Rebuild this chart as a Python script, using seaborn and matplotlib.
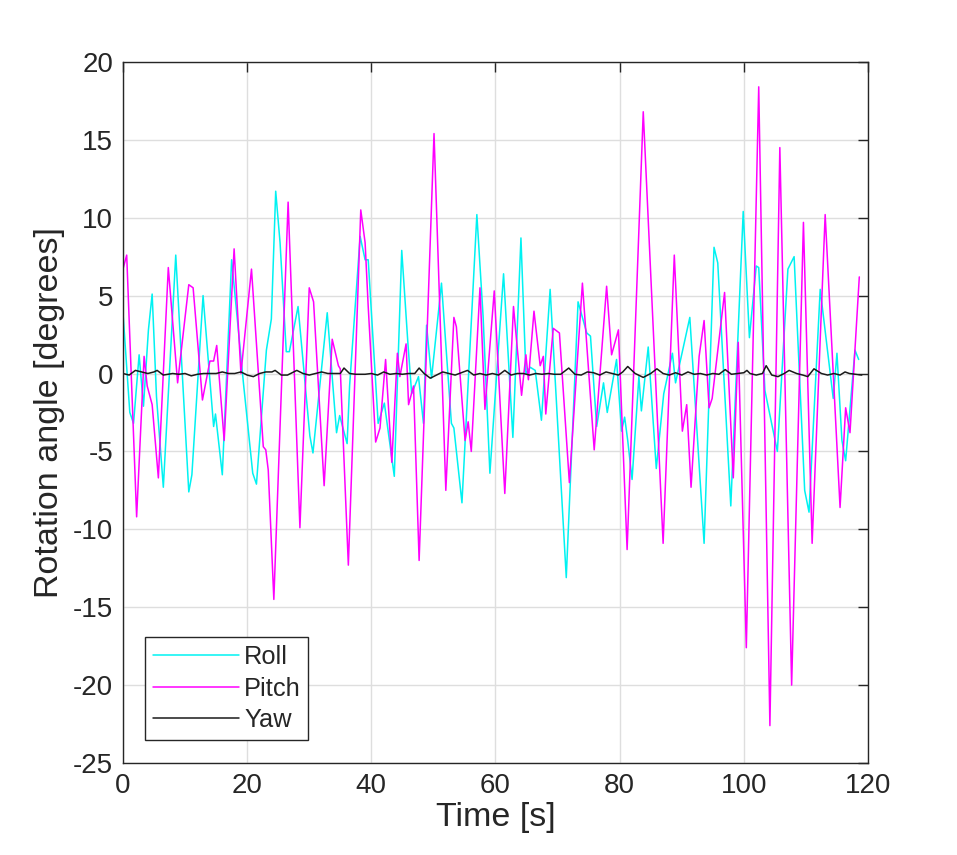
import numpy as np
import pandas as pd
import matplotlib
matplotlib.use("Agg")
import matplotlib.pyplot as plt
import seaborn as sns

roll_t = [0.0, 1.1, 1.7, 2.6, 3.3, 4.1, 4.7, 5.4, 6.5, 8.5, 10.6, 11.1, 12.9, 14.6, 14.9, 16.0, 17.5, 19.4,
          20.9, 21.5, 23.1, 23.9, 24.6, 25.3, 26.3, 26.8, 28.2, 30.1, 30.6, 32.9, 34.4, 34.9, 36.1, 36.5, 38.2,
          39.0, 39.5, 41.1, 42.1, 43.7, 44.9, 45.9, 46.5, 47.6, 48.4, 48.9, 49.7, 51.3, 52.9, 53.3, 54.6, 57.0,
          58.0, 59.1, 61.3, 62.8, 64.1, 64.9, 65.6, 66.4, 67.4, 68.8, 71.4, 73.3, 74.7, 75.3, 76.3, 77.4, 78.0,
          79.5, 80.3, 80.8, 81.3, 82.0, 83.1, 83.5, 84.6, 85.9, 87.1, 88.5, 89.0, 91.3, 93.6, 95.2, 95.8, 97.9,
          99.9, 100.9, 102.0, 102.4, 103.4, 105.4, 107.1, 108.1, 109.8, 110.5, 112.3, 114.4, 115.0, 115.8,
          116.4, 117.9, 118.5]
roll_v = [3.9, -2.5, -3.2, 1.2, -2.1, 2.8, 5.1, -1.5, -7.3, 7.6, -7.6, -6.5, 5.0, -3.4, -2.6, -6.5, 7.3, -0.6,
          -6.4, -7.1, 1.5, 3.5, 11.7, 8.4, 1.4, 1.4, 4.3, -4.0, -5.1, 3.9, -3.8, -2.7, -4.5, -0.8, 8.8,
          7.3, 7.3, -3.2, -1.9, -6.6, 7.9, 1.9, -1.3, -0.2, -3.2, 3.1, -0.3, 5.8, -3.2, -3.5, -8.3, 10.2,
          3.7, -6.4, 6.4, -4.1, 8.7, 0.0, 0.4, 0.2, -3.0, 5.4, -13.1, 4.6, 2.6, 2.4, -3.4, -0.6, -2.5,
          0.9, -3.7, -2.8, -4.3, -6.8, -0.2, -2.4, 1.7, -6.1, -1.3, 1.3, -0.6, 3.6, -10.9, 8.1, 7.1, -8.5,
          10.4, 2.3, 6.9, 6.8, -1.1, -5.0, 6.7, 7.5, -7.5, -8.9, 5.4, -1.6, 1.3, -4.3,
          -5.6, 1.5, 0.9]

pitch_t = [0.0, 0.6, 2.2, 3.4, 3.9, 4.7, 5.7, 7.3, 8.8, 10.6, 11.3, 12.8, 14.0, 14.6, 15.1, 16.3, 17.9, 19.0,
           20.7, 22.6, 23.0, 23.4, 24.3, 26.6, 28.5, 30.0, 30.7, 32.4, 33.7, 34.7, 35.0, 36.3, 38.3, 39.0,
           39.5, 40.7, 41.4, 42.3, 43.3, 44.2, 44.6, 45.6, 46.0, 46.8, 47.7, 50.1, 52.0, 53.3, 53.7, 55.1,
           55.6, 56.1, 57.5, 58.3, 59.8, 61.5, 62.9, 64.2, 64.9, 65.3, 66.2, 67.2, 67.7, 68.1, 69.3, 70.3,
           71.9, 74.0, 75.9, 77.9, 78.7, 79.8, 81.2, 83.8, 87.0, 88.8, 90.1, 90.8, 91.5, 92.8, 93.6, 94.4,
           94.9, 96.9, 98.3, 99.1, 100.4, 102.4, 104.2, 105.8, 107.7, 109.6, 111.0, 113.1, 115.5, 116.4,
           117.1, 118.6]
pitch_v = [6.7, 7.6, -9.2, 1.1, -0.8, -2.0, -6.7, 6.8, -0.6, 5.7, 5.5, -1.7, 0.8, 0.8, 1.8, -4.3, 8.0, 0.0,
           6.7, -4.7, -4.9, -6.2, -14.5, 11.0, -9.9, 5.5, 4.6, -7.2, 2.2, 0.5, 0.3, -12.3, 10.5, 8.4,
           4.3, -4.4, -3.5, 0.9, -5.7, 1.3, -0.2, 1.9, -2.0, -0.8, -12.0, 15.4, -7.5, 3.6, 3.0, -4.3,
           -3.1, -5.0, 5.5, -2.3, 5.3, -7.7, 4.3, -1.4, 1.2, -0.4, 4.0, 0.5, 1.1, -2.6, 2.9, 2.6,
           -7.0, 5.8, -4.9, 5.6, 1.2, 2.8, -11.3, 16.8, -10.9, 7.6, -3.7, -2.0, -7.3, 1.1, 3.4, -2.2,
           -1.6, 5.2, -6.7, 2.0, -17.6, 18.4, -22.6, 14.5, -20.0, 9.7, -10.9, 10.2, -8.6, -2.2,
           -3.8, 6.2]

yaw_t = [0, 1, 2, 3, 4, 5, 5.5, 6.5, 8, 9, 10, 11, 12, 13, 14, 15, 16, 17, 18, 19, 20, 21, 22, 23, 24, 24.5,
         25.5, 26.5, 27.5, 28, 29, 30, 31, 32, 33, 34, 35, 35.6, 36.5, 37.5, 39, 40, 41, 42, 43, 44, 45, 46, 47,
         47.7, 48.5, 49.5, 50.5, 51.5, 52.5, 53.5, 54.5, 55.5, 56.5, 57.5, 58.5, 59.5, 60.5, 61.5, 62.5, 63.5,
         64.5, 65.5, 66.5, 67.5, 68.5, 69.5, 70.5, 71.8, 72.8, 73.8, 74.8, 75.8, 76.8, 77.8, 78.8, 79.8, 80.5,
         81.3, 82.5, 83.8, 85, 86, 87, 88, 89, 90, 91, 92, 93, 94, 95, 96, 97, 98, 99, 100, 100.5, 101, 102,
         103, 103.6, 104.5, 105.5, 106.5, 107.3, 108.5, 109.5, 110.3, 111.3, 112.5, 113.5, 114.5, 115.5,
         116.3, 117, 118, 119]
yaw_v = [0.0, -0.1, 0.2, 0.1, 0.0, 0.1, 0.2, -0.1, 0.0, -0.05, 0.0, -0.15, -0.05, 0.0, 0.0, 0.0, 0.1, 0.0,
         0.0, 0.1, -0.1, -0.2, 0.0, 0.1, 0.1, 0.2, -0.1, -0.1, 0.1, 0.2, 0.0, -0.1, 0.0, 0.1, 0.0, 0.0, 0.0,
         0.35, 0.0, -0.05, -0.05, 0.0, -0.1, 0.1, -0.05, 0.0, -0.05, 0.0, 0.0, 0.35, 0.0, -0.3, -0.1, 0.1,
         0.0, -0.1, 0.05, 0.2, -0.1, 0.0, -0.1, 0.0, -0.1, 0.2, -0.1, 0.0, 0.0, -0.1, 0.0, -0.05, 0.0,
         -0.05, -0.05, 0.35, -0.05, -0.1, 0.1, 0.05, -0.1, 0.1, 0.0, -0.1, 0.1, 0.45, 0.0, -0.25, 0.0,
         0.3, 0.0, -0.1, 0.05, -0.1, 0.1, -0.05, 0.0, -0.1, 0.0, -0.05, 0.25, -0.05, 0.0, 0.05, 0.2, 0.0,
         -0.1, 0.0, 0.5, -0.1, -0.2, 0.0, 0.2, 0.0, -0.1, -0.2, 0.3, 0.0, -0.1, 0.0, -0.1, 0.1, 0.0,
         -0.05, -0.1]

series_names = ["Roll", "Pitch", "Yaw"]
series_colors = ["#00f2f2", "#ff00ff", "#1a1a1a"]
x_ticks = [0, 20, 40, 60, 80, 100, 120]
y_ticks = [-25, -20, -15, -10, -5, 0, 5, 10, 15, 20]

df = pd.concat([
    pd.DataFrame({"t": roll_t, "angle": roll_v, "series": "Roll"}),
    pd.DataFrame({"t": pitch_t, "angle": pitch_v, "series": "Pitch"}),
    pd.DataFrame({"t": yaw_t, "angle": yaw_v, "series": "Yaw"}),
], ignore_index=True)

sns.set_theme(style="white")
plt.rcParams["font.family"] = ["Liberation Sans", "DejaVu Sans"]
plt.rcParams["axes.unicode_minus"] = False

fig = plt.figure(figsize=(9.57, 8.55), dpi=100)
ax = fig.add_axes([0.1285, 0.1076, 0.7785, 0.82])

sns.lineplot(data=df, x="t", y="angle", hue="series", hue_order=series_names,
             palette=dict(zip(series_names, series_colors)), estimator=None, sort=False,
             linewidth=1.1, ax=ax)

ax.set_xlim(0, 120)
ax.set_ylim(-25, 20)
ax.set_xticks(x_ticks)
ax.set_yticks(y_ticks)
ax.grid(True, color="#dedede", linewidth=1.0)
ax.set_axisbelow(True)
for s in ax.spines.values():
    s.set_visible(True)
    s.set_color("#262626")
    s.set_linewidth(1.0)
ax.tick_params(direction="in", length=7, width=1, colors="#262626", labelsize=20,
               top=True, right=True, pad=7)
ax.set_xlabel("Time [s]", fontsize=24.5, color="#262626", labelpad=2)
ax.set_ylabel("Rotation angle [degrees]", fontsize=24.5, color="#262626", labelpad=6)

leg = ax.legend(loc="lower left", bbox_to_anchor=(0.0295, 0.033), borderaxespad=0, fontsize=18.3,
                frameon=True, fancybox=False, handlelength=3.4, handletextpad=0.2, borderpad=0.3,
                labelspacing=0.3, framealpha=1.0)
leg.get_frame().set_edgecolor("#262626")
leg.get_frame().set_linewidth(1.0)

fig.savefig("out.png", dpi=100, facecolor="white")
